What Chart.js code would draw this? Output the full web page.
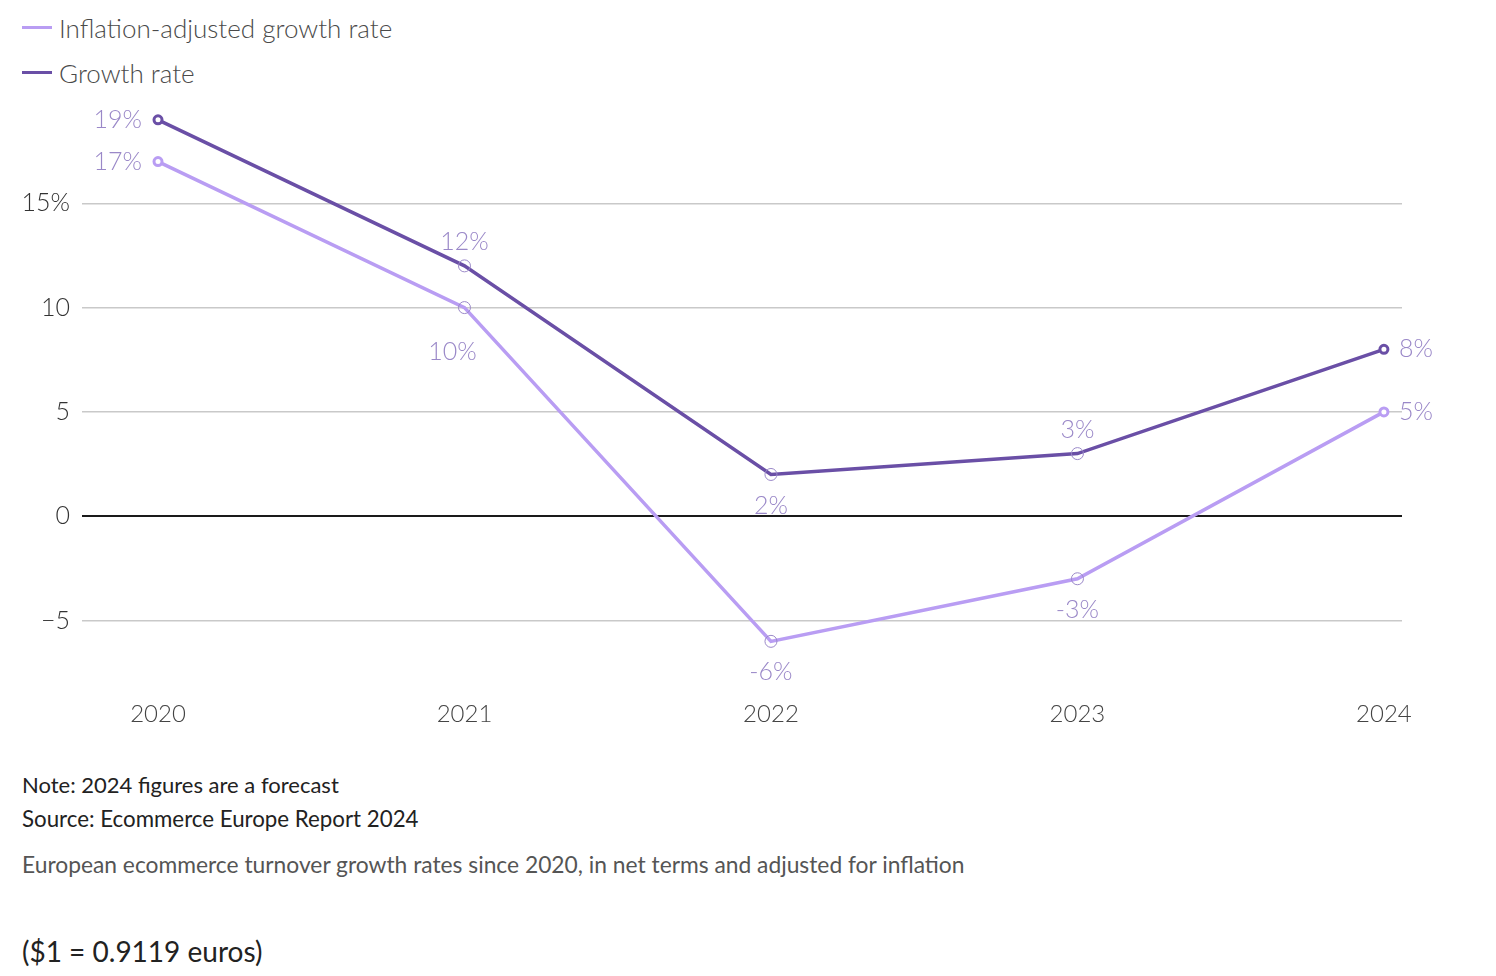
<!DOCTYPE html>
<html>
<head>
<meta charset="utf-8">
<script src="https://cdn.jsdelivr.net/npm/chart.js@4"></script>
<style>
  body { margin: 0; background: #fff; font-family: Lato, "Noto Sans", sans-serif; width: 1496px; height: 976px; overflow: hidden; position: relative; }
  #legend { position: absolute; left: 22px; top: 5px; }
  .item { display: flex; align-items: center; height: 45px; font-size: 26px; font-weight: 300; color: #4a4a4a; }
  .swatch { width: 30px; height: 3px; margin-right: 7px; }
  #wrap { position: absolute; left: 0; top: 0; width: 1496px; height: 771px; }
  .note { position: absolute; left: 22px; color: #222; font-size: 22px; }
  #sub { position: absolute; left: 22px; top: 850px; color: #555; font-size: 22.8px; }
  #fx { position: absolute; left: 22px; top: 934px; color: #222; font-size: 28px; }
</style>
</head>
<body>
<div id="legend"></div>
<div id="wrap"><canvas id="chart"></canvas></div>
<div class="note" style="top:771px">Note: 2024 figures are a forecast</div>
<div class="note" style="top:805px; font-size:22.3px">Source: Ecommerce Europe Report 2024</div>
<div id="sub">European ecommerce turnover growth rates since 2020, in net terms and adjusted for inflation</div>
<div id="fx">($1 = 0.9119 euros)</div>
<script>
// chart data
const years = [2020, 2021, 2022, 2023, 2024];
const adjustedRate = [17, 10, -6, -3, 5];
const growthRate = [19, 12, 2, 3, 8];
const yTicks = [-5, 0, 5, 10, 15];

// where each value label sits relative to its point
const adjustedLabelPos = ["left", "belowFar", "below", "below", "right"];
const growthLabelPos = ["left", "above", "below", "above", "right"];

const lightPurple = "#b99df3";
const darkPurple = "#6a4fa6";
const labelColor = "#9a88c8";

function pointStyleArrays(color) {
  let last = years.length - 1;
  return {
    pointRadius: years.map((y, i) => (i === 0 || i === last) ? 4 : 6),
    pointBorderWidth: years.map((y, i) => (i === 0 || i === last) ? 3 : 1),
    pointBorderColor: years.map((y, i) => (i === 0 || i === last) ? color : labelColor),
    pointBackgroundColor: years.map((y, i) => (i === 0 || i === last) ? "#fff" : "rgba(0,0,0,0)")
  };
}

function toPoints(values) {
  return years.map((y, i) => ({ x: y, y: values[i] }));
}

// draws the % labels next to each point
const valueLabels = {
  id: "valueLabels",
  afterDatasetsDraw(chart) {
    let ctx = chart.ctx;
    ctx.save();
    ctx.font = "300 25px Lato, 'Noto Sans', sans-serif";
    ctx.fillStyle = labelColor;
    chart.data.datasets.forEach((ds, di) => {
      let meta = chart.getDatasetMeta(di);
      meta.data.forEach((pt, i) => {
        let text = ds.data[i].y + "%";
        let pos = ds.labelPos[i];
        ctx.textBaseline = "middle";
        if (pos === "left") {
          ctx.textAlign = "right";
          ctx.fillText(text, pt.x - 16, pt.y);
        } else if (pos === "right") {
          ctx.textAlign = "left";
          ctx.fillText(text, pt.x + 15, pt.y);
        } else if (pos === "above") {
          ctx.textAlign = "center";
          ctx.fillText(text, pt.x, pt.y - 24);
        } else if (pos === "belowFar") {
          ctx.textAlign = "center";
          ctx.fillText(text, pt.x - 12, pt.y + 44);
        } else {
          ctx.textAlign = "center";
          ctx.fillText(text, pt.x, pt.y + 31);
        }
      });
    });
    ctx.restore();
  }
};

const datasets = [
  Object.assign({
    label: "Inflation-adjusted growth rate",
    data: toPoints(adjustedRate),
    labelPos: adjustedLabelPos,
    borderColor: lightPurple,
    borderWidth: 3.5
  }, pointStyleArrays(lightPurple)),
  Object.assign({
    label: "Growth rate",
    data: toPoints(growthRate),
    labelPos: growthLabelPos,
    borderColor: darkPurple,
    borderWidth: 3.5
  }, pointStyleArrays(darkPurple))
];

// html legend, stacked like the original
let legend = document.getElementById("legend");
datasets.forEach(ds => {
  let row = document.createElement("div");
  row.className = "item";
  row.innerHTML = '<span class="swatch" style="background:' + ds.borderColor + '"></span>' + ds.label;
  legend.appendChild(row);
});

new Chart(document.getElementById("chart"), {
  type: "line",
  data: { datasets: datasets },
  plugins: [valueLabels],
  options: {
    responsive: true,
    maintainAspectRatio: false,
    animation: false,
    layout: { padding: { top: 99, right: 94, bottom: 12, left: 0 } },
    plugins: { legend: { display: false }, tooltip: { enabled: false } },
    scales: {
      x: {
        type: "linear",
        min: 2019.752,
        max: 2024.059,
        border: { display: false },
        grid: { display: false },
        afterBuildTicks: scale => { scale.ticks = years.map(y => ({ value: y })); },
        ticks: {
          padding: 30,
          color: "#444",
          font: { family: "Lato", size: 24, weight: 300 },
          callback: v => String(v),
          maxRotation: 0
        }
      },
      y: {
        min: -7,
        max: 20,
        border: { display: false },
        afterFit: scale => { scale.width = 82; },
        afterBuildTicks: scale => { scale.ticks = yTicks.map(v => ({ value: v })); },
        grid: {
          drawTicks: false,
          color: ctx => ctx.tick && ctx.tick.value === 0 ? "#1a1a1a" : "#c9c9c9",
          lineWidth: ctx => ctx.tick && ctx.tick.value === 0 ? 2 : 1.5
        },
        ticks: {
          padding: 12,
          color: "#333",
          font: { family: "Lato", size: 25, weight: 300 },
          callback: v => v === 15 ? "15%" : (v < 0 ? "\u2212" + Math.abs(v) : String(v))
        }
      }
    }
  }
});
</script>
</body>
</html>
